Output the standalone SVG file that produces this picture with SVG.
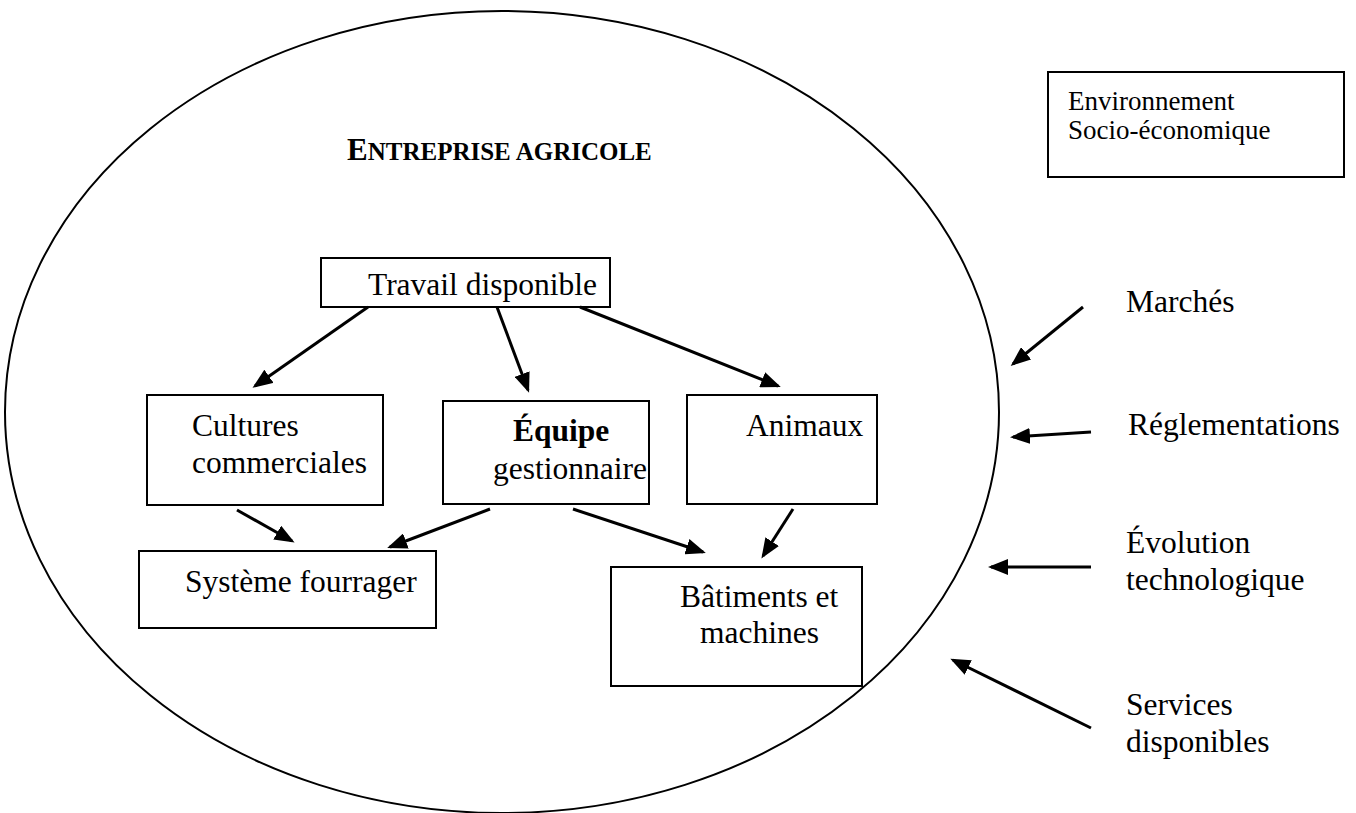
<svg xmlns="http://www.w3.org/2000/svg" width="1356" height="813" viewBox="0 0 1356 813">
<defs>
<marker id="ah" viewBox="0 0 20 16" refX="17" refY="8" markerWidth="20" markerHeight="16" markerUnits="userSpaceOnUse" orient="auto">
<path d="M0,0 L20,8 L0,16 z" fill="#000"/>
</marker>
<style>
.box{fill:#fff;stroke:#000;stroke-width:2}
.t{font-family:"Liberation Serif","Times New Roman",serif;font-size:31.5px;fill:#000}
.s{font-family:"Liberation Serif","Times New Roman",serif;font-size:27px;fill:#000}
.b{font-weight:bold}
.arr{fill:none;stroke:#000;stroke-width:3;marker-end:url(#ah)}
</style>
</defs>
<rect width="1356" height="813" fill="#fff"/>
<ellipse id="entreprise" cx="502" cy="412" rx="497" ry="401" fill="none" stroke="#000" stroke-width="2"/>
<text class="t b" x="347" y="160" style="font-size:31px">E<tspan style="font-size:25px">NTREPRISE AGRICOLE</tspan></text>

<g id="travail"><rect class="box" x="321" y="258" width="289" height="49"/><text class="t" x="368" y="295">Travail disponible</text></g>
<g id="cultures"><rect class="box" x="147" y="395" width="236" height="110"/><text class="t" x="192" y="436">Cultures</text><text class="t" x="192" y="473">commerciales</text></g>
<g id="equipe"><rect class="box" x="443" y="401" width="206" height="103"/><text class="t b" x="513" y="441">Équipe</text><text class="t" x="493" y="479">gestionnaire</text></g>
<g id="animaux"><rect class="box" x="687" y="395" width="190" height="109"/><text class="t" x="746" y="436">Animaux</text></g>
<g id="systeme"><rect class="box" x="139" y="551" width="297" height="77"/><text class="t" x="185" y="592">Système fourrager</text></g>
<g id="batiments"><rect class="box" x="611" y="567" width="251" height="119"/><text class="t" x="680" y="607">Bâtiments et</text><text class="t" x="700" y="643">machines</text></g>
<g id="environnement"><rect class="box" x="1048" y="72" width="296" height="105"/><text class="s" x="1068" y="110">Environnement</text><text class="s" x="1068" y="139">Socio-économique</text></g>
<g id="marches"><text class="t" x="1126" y="312">Marchés</text></g>
<g id="reglementations"><text class="t" x="1128" y="435">Réglementations</text></g>
<g id="evolution"><text class="t" x="1126" y="553">Évolution</text><text class="t" x="1126" y="590">technologique</text></g>
<g id="services"><text class="t" x="1126" y="715">Services</text><text class="t" x="1126" y="752">disponibles</text></g>

<g id="connectors">
<line class="arr" x1="368" y1="307" x2="255" y2="386"/>
<line class="arr" x1="497" y1="307" x2="528" y2="390"/>
<line class="arr" x1="580" y1="307" x2="778" y2="386"/>
<line class="arr" x1="237" y1="510" x2="292" y2="541"/>
<line class="arr" x1="490" y1="509" x2="390" y2="547"/>
<line class="arr" x1="573" y1="509" x2="703" y2="552"/>
<line class="arr" x1="793" y1="509" x2="763" y2="556"/>
<line class="arr" x1="1083" y1="307" x2="1013" y2="364"/>
<line class="arr" x1="1091" y1="432" x2="1013" y2="437"/>
<line class="arr" x1="1091" y1="567" x2="991" y2="567"/>
<line class="arr" x1="1091" y1="728" x2="953" y2="660"/>
</g>
</svg>
